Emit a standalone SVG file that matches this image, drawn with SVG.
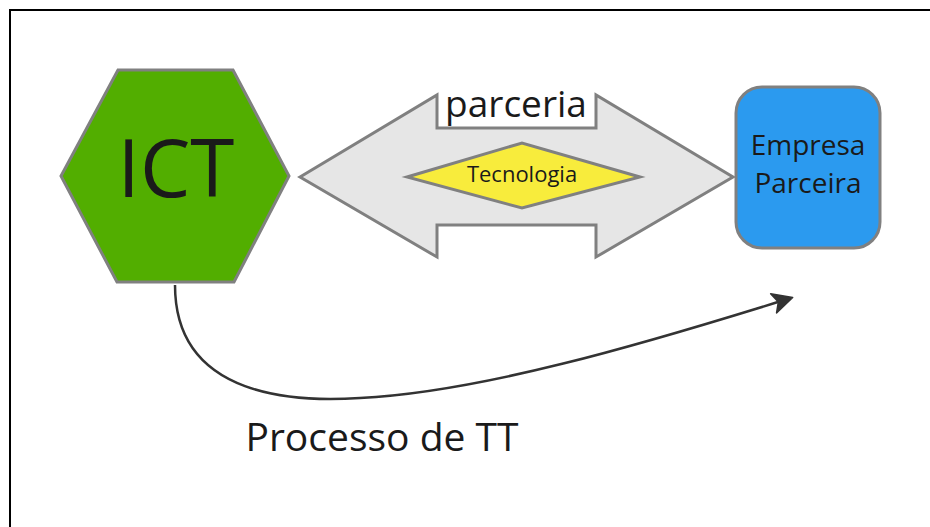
<svg xmlns="http://www.w3.org/2000/svg" width="930" height="527" viewBox="0 0 930 527">
  <style>
    .shape { stroke: #808080; stroke-width: 3; stroke-linejoin: miter; }
    .label { font-family: "Open Sans", "Noto Sans", "DejaVu Sans", sans-serif; fill: #1a1a1a; text-anchor: middle; }
    .edge { fill: none; stroke: #333333; stroke-width: 2.5; }
  </style>
  <defs>
    <marker id="arrowhead" markerUnits="userSpaceOnUse" markerWidth="30" markerHeight="30" viewBox="-22 -12 30 24" refX="-7" refY="0" orient="auto">
      <path d="M0,0 L-20,-10 L-15,0 L-20,10 Z" fill="#333333" stroke="#333333" stroke-width="1.5" stroke-linejoin="round"/>
    </marker>
  </defs>

  <rect width="930" height="527" fill="#ffffff"/>
  <!-- page frame -->
  <rect x="10" y="10" width="940" height="540" fill="none" stroke="#000000" stroke-width="2"/>

  <g id="ict">
    <polygon class="shape" points="118,70 233,70 289,176 234,282 117,282 61,176" fill="#52ae00"/>
    <text class="label" x="176" y="197" font-size="80">ICT</text>
  </g>

  <g id="parceria">
    <polygon class="shape" points="300,177 437,95 437,128 596,128 596,95 733,177 596,257 596,225 437,225 437,257" fill="#e6e6e6"/>
    <text class="label" x="516" y="117" font-size="37">parceria</text>
  </g>

  <g id="tecnologia">
    <polygon class="shape" points="407,177 522,143 640,177 522,208" fill="#f8ec3c" stroke-width="2.5"/>
    <text class="label" x="522" y="182" font-size="22">Tecnologia</text>
  </g>

  <g id="empresa">
    <rect class="shape" x="736" y="87" width="144" height="161" rx="26" ry="26" fill="#2b9aef"/>
    <text class="label" x="808" y="155" font-size="28">Empresa</text>
    <text class="label" x="808" y="193" font-size="28">Parceira</text>
  </g>

  <g id="connectors">
    <path class="edge" d="M175,285 C175,400 300,402 360,398 C480,392 640,345 786,299.5" marker-end="url(#arrowhead)"/>
    <text class="label" x="382" y="451" font-size="39">Processo de TT</text>
  </g>
</svg>
